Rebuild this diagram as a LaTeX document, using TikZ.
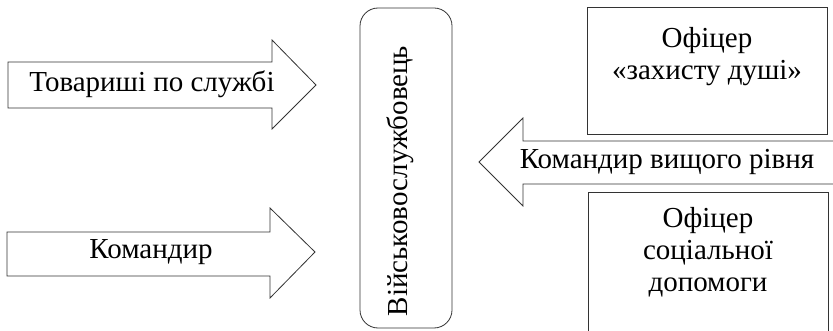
\documentclass[tikz,border=0pt]{standalone}
\usepackage{fontspec}
\setmainfont{Liberation Serif}
\begin{document}
\begin{tikzpicture}[x=1pt,y=-1pt,
  outline/.style={draw=black!80, line width=0.8pt, fill=white},
  lbl/.style={font=\fontsize{29}{32}\selectfont, inner sep=0pt, align=center}]
\useasboundingbox (0,0) rectangle (833,331);
\clip (0,0) rectangle (833,331);

% left block arrows pointing at the soldier
\draw[outline] (8,62) -- (272,62) -- (272,40) -- (316,85) -- (272,129) -- (272,108) -- (8,108) -- cycle;
\node[lbl] (peers) at (152,84) {Товариші по службі};

\draw[outline] (7,232) -- (270,232) -- (270,208) -- (315,252) -- (270,298) -- (270,276) -- (7,276) -- cycle;
\node[lbl] (cmd) at (151,252) {Командир};

% the soldier in the middle
\node[outline, rounded corners=18pt, minimum width=92pt, minimum height=320pt] (soldier) at (406,168) {};
\node[lbl, rotate=90] (soldiertext) at (400,181) {Військовослужбовець};

% arrow from the higher commander, entering from the right
\draw[outline] (845,141) -- (523,141) -- (523,118) -- (479,162) -- (523,206) -- (523,184) -- (845,184) -- cycle;
\node[lbl] (hicmd) at (667,162) {Командир вищого рівня};

% officer boxes on the right
\draw[outline] (587,7) rectangle (827,134);
\node[lbl] (soul) at (707,57) {Офіцер\\«захисту душі»};

\draw[outline] (588,192) rectangle (828,345);
\node[lbl] (social) at (708,252) {Офіцер\\соціальної\\допомоги};
\end{tikzpicture}
\end{document}
